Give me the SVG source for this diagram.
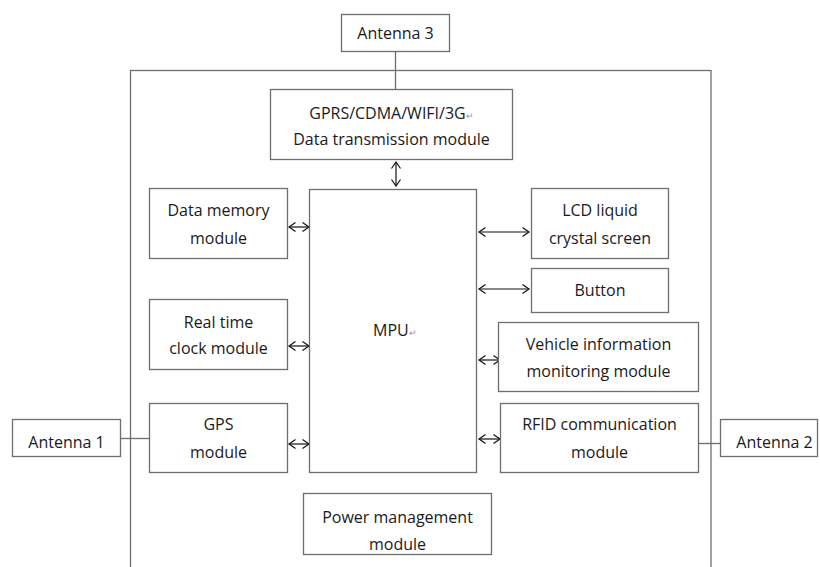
<svg xmlns="http://www.w3.org/2000/svg" width="820" height="567" viewBox="0 0 820 567">
<style>
.box{fill:#fff;stroke:#6e6e6e;stroke-width:1.3}
.ln{stroke:#6e6e6e;stroke-width:1.3;fill:none}
.ar{stroke:#111;stroke-width:1.2;fill:none}
text{font-family:"Open Sans",Lato,"Liberation Sans",sans-serif;font-size:16px;fill:#1a1a1a;text-anchor:middle}
.pm{font-size:9px;fill:#999}
</style>
<defs>
<marker id="ah" markerWidth="10" markerHeight="12" refX="7.5" refY="6" orient="auto-start-reverse" markerUnits="userSpaceOnUse">
<polyline points="1,1.5 7.5,6 1,10.5" fill="none" stroke="#111" stroke-width="1.2"/>
</marker>
</defs>
<rect class="box" x="130.5" y="70.5" width="580.5" height="540" style="fill:none"/>
<g id="connectors">
<line class="ln" x1="395.5" y1="52" x2="395.5" y2="89"/>
<line class="ln" x1="121" y1="438.5" x2="149" y2="438.5"/>
<line class="ln" x1="699" y1="443.5" x2="720" y2="443.5"/>
<line class="ar" x1="396" y1="162" x2="396" y2="186" marker-start="url(#ah)" marker-end="url(#ah)"/>
<line class="ar" x1="289" y1="227" x2="309" y2="227" marker-start="url(#ah)" marker-end="url(#ah)"/>
<line class="ar" x1="289" y1="346" x2="309" y2="346" marker-start="url(#ah)" marker-end="url(#ah)"/>
<line class="ar" x1="289" y1="444" x2="309" y2="444" marker-start="url(#ah)" marker-end="url(#ah)"/>
<line class="ar" x1="479" y1="232" x2="529" y2="232" marker-start="url(#ah)" marker-end="url(#ah)"/>
<line class="ar" x1="479" y1="289" x2="529" y2="289" marker-start="url(#ah)" marker-end="url(#ah)"/>
<line class="ar" x1="479" y1="360" x2="500" y2="360" marker-start="url(#ah)" marker-end="url(#ah)"/>
<line class="ar" x1="479" y1="439" x2="500" y2="439" marker-start="url(#ah)" marker-end="url(#ah)"/>
</g>
<g id="antenna3"><rect class="box" x="341.5" y="14.5" width="108" height="37"/><text x="395.5" y="38.5">Antenna 3</text></g>
<g id="gprs"><rect class="box" x="270.5" y="89.5" width="242" height="70"/><text x="391.5" y="118.5">GPRS/CDMA/WIFI/3G<tspan class="pm">↵</tspan></text><text x="391.5" y="144.5">Data transmission module</text></g>
<g id="mpu"><rect class="box" x="309.5" y="189.5" width="167" height="283"/><text x="373" y="335.5" style="text-anchor:start">MPU<tspan class="pm">↵</tspan></text></g>
<g id="memory"><rect class="box" x="149.5" y="188.5" width="138" height="70"/><text x="218.5" y="215.5">Data memory</text><text x="218.5" y="243.5">module</text></g>
<g id="rtc"><rect class="box" x="149.5" y="299.5" width="138" height="70"/><text x="218.5" y="327.5">Real time</text><text x="218.5" y="353.5">clock module</text></g>
<g id="gps"><rect class="box" x="149.5" y="403.5" width="138" height="69"/><text x="218.5" y="429.5">GPS</text><text x="218.5" y="457.5">module</text></g>
<g id="antenna1"><rect class="box" x="12.5" y="419.5" width="108" height="37"/><text x="66.5" y="447.5">Antenna 1</text></g>
<g id="power"><rect class="box" x="303.5" y="493.5" width="188" height="61"/><text x="397.5" y="522.5">Power management</text><text x="397.5" y="549.5">module</text></g>
<g id="lcd"><rect class="box" x="531.5" y="188.5" width="137" height="70"/><text x="600" y="215.5">LCD liquid</text><text x="600" y="243.5">crystal screen</text></g>
<g id="button"><rect class="box" x="531.5" y="268.5" width="137" height="44"/><text x="600" y="295.5">Button</text></g>
<g id="vehicle"><rect class="box" x="498.5" y="322.5" width="200" height="69"/><text x="598.5" y="349.5">Vehicle information</text><text x="598.5" y="376.5">monitoring module</text></g>
<g id="rfid"><rect class="box" x="500.5" y="403.5" width="198" height="69"/><text x="599.5" y="429.5">RFID communication</text><text x="599.5" y="457.5">module</text></g>
<g id="antenna2"><rect class="box" x="720.5" y="419.5" width="97" height="37"/><text x="774.5" y="447.5">Antenna 2</text></g>
</svg>
